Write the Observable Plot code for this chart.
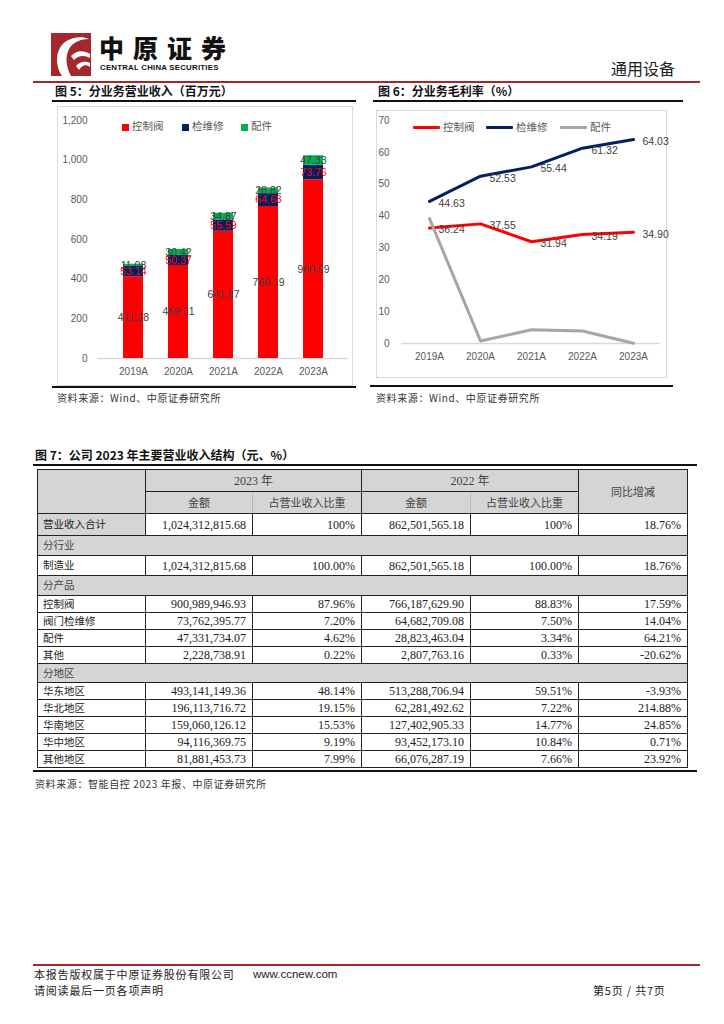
<!DOCTYPE html>
<html><head><meta charset="utf-8">
<script src="https://cdn.jsdelivr.net/npm/d3@7"></script>
<script src="https://cdn.jsdelivr.net/npm/@observablehq/plot@0.6"></script>
<style>
body{margin:0;width:724px;height:1024px;position:relative;background:#fff;font-family:"Noto Sans CJK SC",sans-serif;color:#222;overflow:hidden}
.a{position:absolute;white-space:nowrap;line-height:1}
.figt{font-size:12px;font-weight:700;color:#111}
.src{font-size:10px;color:#333;letter-spacing:0.6px}
.rule{position:absolute;background:#111}
.box{position:absolute;border:1px solid #d9d9d9;box-sizing:content-box}
.leg{position:absolute;font-size:10.5px;color:#595959;line-height:1;white-space:nowrap}
.ft{font-size:11px;color:#222;letter-spacing:0.8px}
table{border-collapse:collapse;table-layout:fixed;font-family:"Liberation Serif","Noto Sans CJK SC",serif;font-size:12px;color:#222}
td{padding:0 6px;border:1px solid #222;overflow:hidden;white-space:nowrap}
td.l{font-family:"Noto Sans CJK SC",sans-serif;font-size:10.5px;text-align:left;padding-left:5px}
td.n{text-align:right}
td.g{background:#d5d5d5}
td.h{background:#d5d5d5;text-align:center;font-family:"Liberation Serif","Noto Sans CJK SC",serif;color:#444}
</style></head>
<body>
<script>
// ---------- data ----------
const years = ["2019A","2020A","2021A","2022A","2023A"];
const seriesNames = ["控制阀","检维修","配件"];
const seriesColors = ["#FF0000","#002060","#00B050"];
const lineColors = ["#FF0000","#002060","#A6A6A6"];
const revValve = [411.18,469.31,641.87,766.19,900.99];
const revService = [53.14,50.37,55.59,64.68,73.76];
const revParts = [11.08,30.42,34.87,28.82,47.33];
const marginValve = [36.24,37.55,31.94,34.19,34.90];
const marginService = [44.63,52.53,55.44,61.32,64.03];
const marginParts = [39.2,0.8,4.3,3.9,0.1];
const yTicks5 = [0,200,400,600,800,1000,1200];
const yTicks6 = [0,10,20,30,40,50,60,70];

const rowLabels = ["营业收入合计","分行业","制造业","分产品","控制阀","阀门检维修","配件","其他","分地区","华东地区","华北地区","华南地区","华中地区","其他地区"];
const amt2023 = ["1,024,312,815.68",null,"1,024,312,815.68",null,"900,989,946.93","73,762,395.77","47,331,734.07","2,228,738.91",null,"493,141,149.36","196,113,716.72","159,060,126.12","94,116,369.75","81,881,453.73"];
const share2023 = ["100%",null,"100.00%",null,"87.96%","7.20%","4.62%","0.22%",null,"48.14%","19.15%","15.53%","9.19%","7.99%"];
const amt2022 = ["862,501,565.18",null,"862,501,565.18",null,"766,187,629.90","64,682,709.08","28,823,463.04","2,807,763.16",null,"513,288,706.94","62,281,492.62","127,402,905.33","93,452,173.10","66,076,287.19"];
const share2022 = ["100%",null,"100.00%",null,"88.83%","7.50%","3.34%","0.33%",null,"59.51%","7.22%","14.77%","10.84%","7.66%"];
const yoy = ["18.76%",null,"18.76%",null,"17.59%","14.04%","64.21%","-20.62%",null,"-3.93%","214.88%","24.85%","0.71%","23.92%"];
</script>

<!-- header -->
<svg class="a" style="left:51px;top:33px" width="40" height="43" viewBox="0 0 40 43">
  <rect width="40" height="43" fill="#A3282C"/>
  <path d="M11 43 C4 32,4 17,14 9 C21 4,31 3,38 6 C30 6,22 9,18 16 C14 24,15 34,20 43 Z" fill="#fff"/>
  <path d="M20 23 C25 17,33 17,39 21 L39 25 C34 22,27 22,23 27 Z" fill="#fff"/>
  <path d="M25 33 C29 28,35 28,39 30 L39 34 C35 31,31 32,28 37 Z" fill="#fff"/>
</svg>
<div class="a" style="left:99px;top:35px;font-size:25px;font-weight:900;letter-spacing:9px;color:#111;font-family:'Noto Sans CJK SC'">中原证券</div>
<div class="a" style="left:100px;top:64px;font-size:7.8px;font-weight:700;color:#111;font-family:'Liberation Sans';letter-spacing:0.25px">CENTRAL CHINA SECURITIES</div>
<div class="a" style="left:611px;top:60px;font-size:16px;color:#222">通用设备</div>
<div class="rule" style="left:33px;top:81px;width:667px;height:2px;background:#A3282C"></div>

<!-- figure titles -->
<div class="a figt" style="left:55px;top:85px">图 5：分业务营业收入（百万元）</div>
<div class="a figt" style="left:378px;top:85px">图 6：分业务毛利率（%）</div>
<div class="rule" style="left:52px;top:100px;width:304px;height:2px"></div>
<div class="rule" style="left:373px;top:100px;width:310px;height:2px"></div>

<div class="box" id="c5" style="left:57px;top:106px;width:294px;height:278px"></div>
<div class="box" id="c6" style="left:376px;top:110px;width:289px;height:266px"></div>

<div class="rule" style="left:52px;top:386px;width:304px;height:2px"></div>
<div class="rule" style="left:370px;top:385px;width:303px;height:2px"></div>
<div class="a src" style="left:57px;top:393px">资料来源：Wind、中原证券研究所</div>
<div class="a src" style="left:376px;top:393px">资料来源：Wind、中原证券研究所</div>

<!-- table -->
<div class="a figt" style="left:35px;top:449px">图 7：公司 2023 年主要营业收入结构（元、%）</div>
<div class="rule" style="left:33px;top:464px;width:664px;height:2px"></div>
<div class="a" id="tbl" style="left:37px;top:469px"></div>
<div class="rule" style="left:33px;top:770px;width:664px;height:2px"></div>
<div class="a src" style="left:35px;top:779px">资料来源：智能自控 2023 年报、中原证券研究所</div>

<!-- footer -->
<div class="rule" style="left:33px;top:964px;width:667px;height:2px;background:#A3282C"></div>
<div class="a ft" style="left:34px;top:969px">本报告版权属于中原证券股份有限公司</div>
<div class="a" style="left:253px;top:969px;font-size:11.5px;color:#222;font-family:'Liberation Sans'">www.ccnew.com</div>
<div class="a ft" style="left:34px;top:985px">请阅读最后一页各项声明</div>
<div class="a ft" style="left:593px;top:985px">第5页 / 共7页</div>

<script>
const colorOf = s => seriesColors[seriesNames.indexOf(s)];
const labelColorOf = s => s === "检维修" ? "#FF0000" : "#404040";
const revSeries = [revValve, revService, revParts];
const rev = seriesNames.flatMap((s, i) => years.map((y, j) => ({year: y, series: s, value: revSeries[i][j]})));

const chart5 = Plot.plot({
  width: 294, height: 278,
  marginLeft: 39, marginRight: 4, marginTop: 13, marginBottom: 27,
  style: {fontFamily: "Liberation Sans, Noto Sans CJK SC", fontSize: "10px", color: "#595959", background: "transparent", overflow: "visible"},
  x: {domain: years, padding: 0.56, label: null, tickSize: 0, tickPadding: 9},
  y: {domain: [0, 1200], ticks: yTicks5, tickFormat: d3.format(","), label: null, tickSize: 0, tickPadding: 10},
  marks: [
    Plot.ruleY([0], {stroke: "#d9d9d9", strokeWidth: 1.5}),
    Plot.barY(rev, Plot.stackY({x: "year", y: "value", z: "series", order: seriesNames, fill: d => colorOf(d.series)})),
    Plot.text(rev, Plot.stackY({x: "year", y: "value", z: "series", order: seriesNames, text: d => d.value.toFixed(2), fill: d => labelColorOf(d.series), fontSize: 10.5}))
  ]
});
const c5 = document.getElementById("c5");
c5.appendChild(chart5);
chart5.style.position = "absolute"; chart5.style.left = "0"; chart5.style.top = "0";
const leg5x = [64, 124, 183];
seriesNames.forEach((s, i) => {
  const sw = document.createElement("div");
  sw.style.cssText = `position:absolute;left:${leg5x[i]}px;top:17px;width:7px;height:7px;background:${seriesColors[i]}`;
  c5.appendChild(sw);
  const t = document.createElement("div");
  t.className = "leg"; t.textContent = s;
  t.style.left = (leg5x[i] + 10) + "px"; t.style.top = "14px";
  c5.appendChild(t);
});

const marginSeries = [marginValve, marginService, marginParts];
const gm = seriesNames.flatMap((s, i) => years.map((y, j) => ({year: y, series: s, value: marginSeries[i][j]})));
const chart6 = Plot.plot({
  width: 289, height: 266,
  marginLeft: 24, marginRight: 6, marginTop: 9, marginBottom: 34,
  style: {fontFamily: "Liberation Sans, Noto Sans CJK SC", fontSize: "10px", color: "#595959", background: "transparent", overflow: "visible"},
  x: {type: "point", domain: years, padding: 0.5, label: null, tickSize: 0, tickPadding: 9},
  y: {domain: [0, 70], ticks: yTicks6, label: null, tickSize: 0, tickPadding: 12},
  marks: [
    Plot.ruleY([0], {stroke: "#d9d9d9", strokeWidth: 1.5}),
    ...seriesNames.map((s, i) => Plot.lineY(gm.filter(d => d.series === s), {x: "year", y: "value", stroke: lineColors[i], strokeWidth: 3, strokeLinejoin: "round", strokeLinecap: "round"})),
    Plot.text(gm.filter(d => d.series !== "配件"), {x: "year", y: "value", text: d => d.value.toFixed(2), dx: 9, dy: 2, textAnchor: "start", fill: "#404040", fontSize: 10.5})
  ]
});
const c6 = document.getElementById("c6");
c6.appendChild(chart6);
chart6.style.position = "absolute"; chart6.style.left = "0"; chart6.style.top = "0";
const leg6x = [36, 109, 183];
seriesNames.forEach((s, i) => {
  const ln = document.createElement("div");
  ln.style.cssText = `position:absolute;left:${leg6x[i]}px;top:15px;width:27px;height:3px;background:${lineColors[i]};border-radius:1px`;
  c6.appendChild(ln);
  const t = document.createElement("div");
  t.className = "leg"; t.textContent = s;
  t.style.left = (leg6x[i] + 30) + "px"; t.style.top = "11px";
  c6.appendChild(t);
});

// table
const colW = [108, 107, 109, 109, 108, 109];
const rowH = [22, 20, 20, 20, 17, 17, 17, 17, 19, 17, 17, 17, 17, 17];
const sections = new Set(["分行业", "分产品", "分地区"]);
let html = `<table style="width:${d3.sum(colW)}px"><colgroup>${colW.map(w => `<col style="width:${w}px">`).join("")}</colgroup>`;
const hc = "font-family:'Noto Sans CJK SC';font-size:11px;";
html += `<tr style="height:22px"><td class="h" rowspan="2"></td><td class="h" colspan="2">2023 年</td><td class="h" colspan="2">2022 年</td><td class="h" rowspan="2" style="${hc}">同比增减</td></tr>`;
html += `<tr style="height:22px"><td class="h" style="${hc}border-right-color:#bbb">金额</td><td class="h" style="${hc}border-left-color:#bbb">占营业收入比重</td><td class="h" style="${hc}border-right-color:#bbb">金额</td><td class="h" style="${hc}border-left-color:#bbb">占营业收入比重</td></tr>`;
const lightTop = new Set(["阀门检维修", "华南地区"]);
const noTop = new Set(["华中地区"]);
rowLabels.forEach((lab, i) => {
  const top = noTop.has(lab) ? "border-top:1px solid transparent;" : lightTop.has(lab) ? "border-top-color:#aaa;" : "";
  if (sections.has(lab)) {
    html += `<tr style="height:${rowH[i]}px"><td class="l g" colspan="6" style="color:#444">${lab}</td></tr>`;
  } else {
    const gfirst = i === 0 ? " g" : "";
    html += `<tr style="height:${rowH[i]}px"><td class="l${gfirst}" style="${top}">${lab}</td>` +
      `<td class="n" style="${top}">${amt2023[i]}</td>` +
      `<td class="n" style="${top}">${share2023[i]}</td>` +
      `<td class="n" style="${top}">${amt2022[i]}</td>` +
      `<td class="n" style="${top}border-left-color:#aaa">${share2022[i]}</td>` +
      `<td class="n" style="${top}">${yoy[i]}</td></tr>`;
  }
});
html += `</table>`;
document.getElementById("tbl").innerHTML = html;
</script>
</body></html>
